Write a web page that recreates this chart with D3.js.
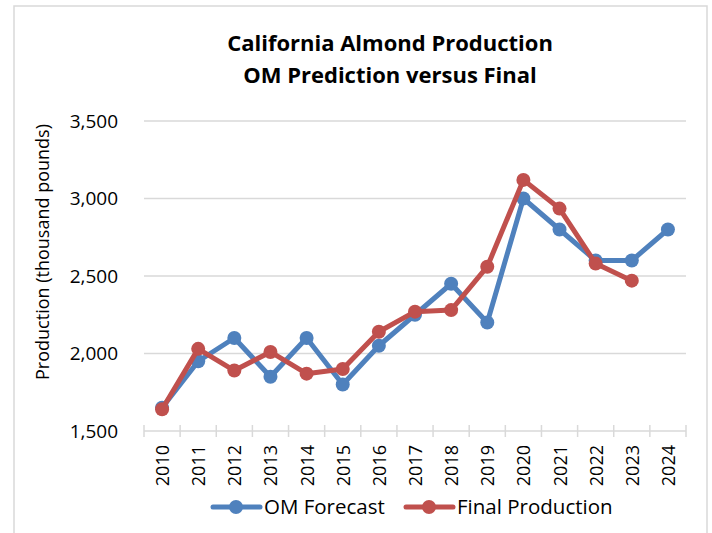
<html>
<head>
<script src="https://d3js.org/d3.v7.min.js"></script>
<style>
 body { margin: 0; background: #fff; }
 text { font-family: "Open Sans", "Noto Sans", sans-serif; fill: #000; }
</style>
</head>
<body>
<svg width="712" height="533"></svg>
<script>
	// chart values
	var years = ["2010","2011","2012","2013","2014","2015","2016","2017","2018","2019","2020","2021","2022","2023","2024"];
	var omForecast = [1650, 1950, 2100, 1850, 2100, 1800, 2050, 2250, 2450, 2200, 3000, 2800, 2600, 2600, 2800];
	var finalProduction = [1640, 2030, 1890, 2010, 1870, 1900, 2140, 2270, 2280, 2560, 3120, 2935, 2580, 2470];
	var yTicks = [1500, 2000, 2500, 3000, 3500];

	var blue = "#4f81bd", red = "#c0504d";

	var svg = d3.select("svg");

	// outer chart frame
	svg.append("rect")
		.attr("x", 14).attr("y", 6)
		.attr("width", 693).attr("height", 540)
		.attr("fill", "none")
		.attr("stroke", "#d9d9d9")
		.attr("stroke-width", 1.5);

	var plotL = 144, plotR = 686, plotT = 121, plotB = 431;

	var x = d3.scaleBand().domain(years).range([plotL, plotR]);
	var y = d3.scaleLinear().domain([1500, 3500]).range([plotB, plotT]);

	// gridlines
	svg.append("g").selectAll("line")
		.data(yTicks.slice(1))
		.enter().append("line")
		.attr("x1", plotL).attr("x2", plotR)
		.attr("y1", function(d) { return y(d); })
		.attr("y2", function(d) { return y(d); })
		.attr("stroke", "#d9d9d9")
		.attr("stroke-width", 1.5);

	// y axis labels
	var yAxis = svg.append("g")
		.attr("transform", "translate(" + plotL + ",0)")
		.call(d3.axisLeft(y).tickValues(yTicks).tickFormat(d3.format(",")).tickSize(0).tickPadding(26));
	yAxis.select(".domain").remove();
	yAxis.selectAll("text").style("font-size", "19px").style("font-family", "'Open Sans', sans-serif");

	// x axis: ticks sit between categories
	var xg = svg.append("g");
	xg.append("line")
		.attr("x1", plotL).attr("x2", plotR)
		.attr("y1", plotB).attr("y2", plotB)
		.attr("stroke", "#d9d9d9").attr("stroke-width", 1.5);
	var bounds = years.map(function(d) { return x(d); }).concat([plotR]);
	xg.selectAll("line.tk")
		.data(bounds)
		.enter().append("line")
		.attr("class", "tk")
		.attr("x1", function(d) { return d; }).attr("x2", function(d) { return d; })
		.attr("y1", plotB - 6).attr("y2", plotB + 6)
		.attr("stroke", "#d9d9d9").attr("stroke-width", 1.5);
	xg.selectAll("text")
		.data(years)
		.enter().append("text")
		.attr("transform", function(d) {
			return "translate(" + (x(d) + x.bandwidth() / 2 + 7) + "," + (plotB + 14) + ") rotate(-90)";
		})
		.attr("text-anchor", "end")
		.style("font-size", "18px")
		.text(function(d) { return d; });

	// lines + markers
	var line = d3.line()
		.x(function(d, i) { return x(years[i]) + x.bandwidth() / 2; })
		.y(function(d) { return y(d); });

	function drawSeries(vals, col) {
		svg.append("path")
			.datum(vals)
			.attr("d", line)
			.attr("fill", "none")
			.attr("stroke", col)
			.attr("stroke-width", 5)
			.attr("stroke-linejoin", "round");
		svg.append("g").selectAll("circle")
			.data(vals)
			.enter().append("circle")
			.attr("cx", function(d, i) { return x(years[i]) + x.bandwidth() / 2; })
			.attr("cy", function(d) { return y(d); })
			.attr("r", 7)
			.attr("fill", col);
	}
	drawSeries(omForecast, blue);
	drawSeries(finalProduction, red);

	// title
	svg.append("text")
		.attr("x", 390).attr("y", 51)
		.attr("text-anchor", "middle")
		.style("font-size", "22px").style("font-weight", "bold")
		.text("California Almond Production");
	svg.append("text")
		.attr("x", 390).attr("y", 83)
		.attr("text-anchor", "middle")
		.style("font-size", "22px").style("font-weight", "bold")
		.text("OM Prediction versus Final");

	// y axis title
	svg.append("text")
		.attr("transform", "translate(49,252) rotate(-90)")
		.attr("text-anchor", "middle")
		.style("font-size", "18px")
		.text("Production (thousand pounds)");

	// legend
	var legend = [{name: "OM Forecast", col: blue, x: 213}, {name: "Final Production", col: red, x: 406}];
	var lg = svg.append("g").selectAll("g")
		.data(legend)
		.enter().append("g")
		.attr("transform", function(d) { return "translate(" + d.x + ",507)"; });
	lg.append("line")
		.attr("x1", 0).attr("x2", 47)
		.attr("stroke", function(d) { return d.col; })
		.attr("stroke-width", 5)
		.attr("stroke-linecap", "round");
	lg.append("circle")
		.attr("cx", 23).attr("r", 7)
		.attr("fill", function(d) { return d.col; });
	lg.append("text")
		.attr("x", 51).attr("y", 7)
		.style("font-size", "20.5px")
		.text(function(d) { return d.name; });
</script>
</body>
</html>
